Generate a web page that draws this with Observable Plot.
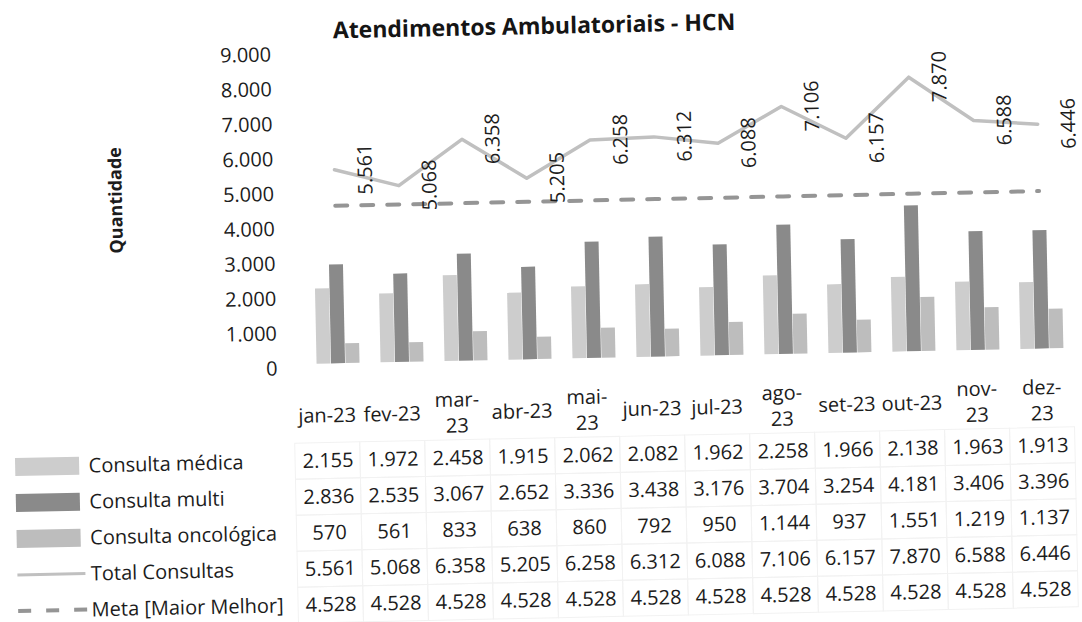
<!DOCTYPE html>
<html>
<head>
<meta charset="utf-8">
<script src="https://cdn.jsdelivr.net/npm/d3@7"></script>
<script src="https://cdn.jsdelivr.net/npm/@observablehq/plot@0.6"></script>
<style>
  html, body { margin: 0; padding: 0; background: #fff; overflow: hidden; }
  #root { position: absolute; left: 0; top: 0; width: 1082px; height: 622px;
          transform: rotate(-1.2deg); transform-origin: 541px 311px;
          font-family: "Open Sans", sans-serif; color: #1c1c1c; }
  #title { position: absolute; left: 140px; width: 800px; top: 9px; text-align: center;
           font: bold 23px/32px "Open Sans", sans-serif; color: #151515; }
  #chart { position: absolute; left: 0; top: 0; }
  #table { position: absolute; left: 0; top: 380px; }
</style>
</head>
<body>
<div id="root">
  <div id="chart"></div>
  <div id="table"></div>
  <div id="title">Atendimentos Ambulatoriais - HCN</div>
</div>
<script>
// ---- data ----
const months = ["jan-23","fev-23","mar-23","abr-23","mai-23","jun-23","jul-23","ago-23","set-23","out-23","nov-23","dez-23"];
const headerLabels = ["jan-23","fev-23","mar-\n23","abr-23","mai-\n23","jun-23","jul-23","ago-\n23","set-23","out-23","nov-\n23","dez-\n23"];
const medica = [2155,1972,2458,1915,2062,2082,1962,2258,1966,2138,1963,1913];
const multi  = [2836,2535,3067,2652,3336,3438,3176,3704,3254,4181,3406,3396];
const onco   = [570,561,833,638,860,792,950,1144,937,1551,1219,1137];
const total  = [5561,5068,6358,5205,6258,6312,6088,7106,6157,7870,6588,6446];
const meta   = [4528,4528,4528,4528,4528,4528,4528,4528,4528,4528,4528,4528];
const seriesNames = ["Consulta médica","Consulta multi","Consulta oncológica","Total Consultas","Meta [Maior Melhor]"];
const yTicks = [0,1000,2000,3000,4000,5000,6000,7000,8000,9000];

const colors = {medica: "#cdcdcd", multi: "#8a8a8a", onco: "#bdbdbd", total: "#c0c0c0", meta: "#959595"};

const fmt = d3.formatLocale({decimal: ",", thousands: ".", grouping: [3], currency: ["R$", ""]}).format(",d");

const rows = months.map((m, i) => ({month: m, medica: medica[i], multi: multi[i], onco: onco[i], total: total[i], meta: meta[i]}));
const seriesArrays = [medica, multi, onco, total, meta];
const cells = [];
seriesNames.forEach((s, j) => months.forEach((m, i) => cells.push({series: s, month: m, value: seriesArrays[j][i]})));

// ---- chart ----
const chart = Plot.plot({
  width: 1082,
  height: 380,
  marginLeft: 304,
  marginRight: 9,
  marginTop: 45,
  marginBottom: 21,
  style: {fontFamily: "Open Sans, sans-serif", fontSize: "20px", color: "#1c1c1c", background: "transparent", overflow: "visible"},
  x: {domain: months, padding: 0, axis: null},
  y: {domain: [0, 9000], axis: null},
  marks: [
    Plot.axisY({ticks: yTicks, tickFormat: fmt, tickSize: 0, tickPadding: 28, fontSize: 20, dy: 4, label: null}),
    Plot.barY(rows, {x: "month", y: "medica", fill: colors.medica, insetLeft: 10.5, insetRight: 39.5}),
    Plot.barY(rows, {x: "month", y: "multi", fill: colors.multi, insetLeft: 25, insetRight: 25}),
    Plot.barY(rows, {x: "month", y: "onco", fill: colors.onco, insetLeft: 39.5, insetRight: 10.5}),
    Plot.lineY(rows, {x: "month", y: "meta", stroke: colors.meta, strokeWidth: 4, strokeDasharray: "12,14"}),
    Plot.lineY(rows, {x: "month", y: "total", stroke: colors.total, strokeWidth: 3.5}),
    Plot.text(rows, {x: "month", y: "total", text: d => fmt(d.total), rotate: -90, dx: 31, fontSize: 20, fill: "#1c1c1c"}),
    Plot.text(["Quantidade"], {frameAnchor: "left", dx: -186, dy: -11, rotate: -90, textAnchor: "middle", lineAnchor: "middle", fontWeight: "bold", fontSize: 18, fill: "#1c1c1c"})
  ]
});
document.getElementById("chart").append(chart);

// ---- data table ----
const table = Plot.plot({
  width: 1082,
  height: 240,
  marginLeft: 291,
  marginRight: 10,
  marginTop: 57,
  marginBottom: 0.5,
  style: {fontFamily: "Open Sans, sans-serif", fontSize: "20px", color: "#1c1c1c", background: "transparent", overflow: "visible"},
  x: {domain: months, padding: 0, axis: null},
  y: {domain: seriesNames, padding: 0, axis: null},
  marks: [
    Plot.cell(cells, {x: "month", y: "series", fill: "none", stroke: "#f2f2f2", strokeWidth: 1}),
    Plot.text(months, {x: d => d, text: (d, i) => headerLabels[i], frameAnchor: "top", lineAnchor: "middle", dy: -28, fontSize: 20, lineHeight: 1.3, fill: "#1c1c1c"}),
    Plot.text(cells, {x: "month", y: "series", text: d => fmt(d.value), fontSize: 20, fill: "#1c1c1c"}),
    Plot.text(seriesNames, {y: d => d, text: d => d, frameAnchor: "left", lineAnchor: "middle", dx: -206, textAnchor: "start", fontSize: 20, fill: "#1c1c1c"})
  ]
});
document.getElementById("table").append(table);

// legend keys drawn next to the row labels, placed with the table's y scale
const ys = table.scale("y");
const bw = ys.bandwidth;
const g = d3.select(table).append("g");
const keyStyle = [
  {type: "box", fill: colors.medica},
  {type: "box", fill: colors.multi},
  {type: "box", fill: colors.onco},
  {type: "line", stroke: colors.total, dash: null},
  {type: "line", stroke: colors.meta, dash: "13,15"}
];
seriesNames.forEach((s, j) => {
  const cy = ys.apply(s) + bw / 2;
  const k = keyStyle[j];
  if (k.type === "box") {
    g.append("rect").attr("x", 12).attr("y", cy - 9).attr("width", 64).attr("height", 18).attr("fill", k.fill);
  } else {
    const l = g.append("line").attr("x1", 12).attr("x2", k.dash ? 84 : 80).attr("y1", cy).attr("y2", cy)
      .attr("stroke", k.stroke).attr("stroke-width", k.dash ? 4 : 3);
    if (k.dash) l.attr("stroke-dasharray", k.dash);
  }
});
</script>
</body>
</html>
